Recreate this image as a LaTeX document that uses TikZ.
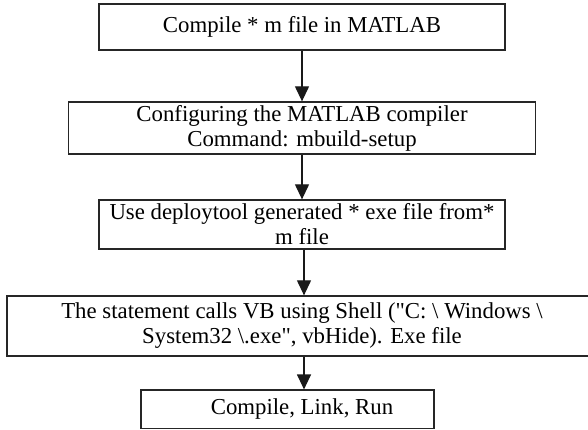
\documentclass[tikz,border=0pt]{standalone}
\usepackage{fontspec}
\setmainfont{Liberation Serif}[Ligatures=TeXOff]
\usetikzlibrary{arrows.meta}
\begin{document}
\begin{tikzpicture}[x=1pt,y=-1pt,
  box/.style={draw=black!85, line width=1.3pt, inner sep=0pt, align=center,
    font=\fontsize{22.8}{25}\selectfont},
  arr/.style={draw=black!90, line width=1.2pt, -{Triangle[width=14pt,length=15pt]}}]
\useasboundingbox (0,0) rectangle (588,429);
\node[box, minimum width=406pt, minimum height=46pt] (b1) at (302,27) {Compile * m file in MATLAB};
\node[box, minimum width=467pt, minimum height=52pt] (b2) at (302,128) {Configuring the MATLAB compiler\\Command: mbuild-setup};
\node[box, minimum width=406pt, minimum height=49pt] (b3) at (302,224.5) {Use deploytool generated * exe file from*\\m file};
\node[box, minimum width=590pt, minimum height=60pt] (b4) at (302,326) {The statement calls VB using Shell ("C: \textbackslash{} Windows \textbackslash\\System32 \textbackslash.exe", vbHide). Exe file};
\node[box, minimum width=293pt, minimum height=38.5pt] (b5) at (287.5,409.3) {\hspace*{29pt}Compile, Link, Run};
\draw[arr] (b1.south) -- (b1.south |- b2.north);
\draw[arr] (b2.south) -- (b2.south |- b3.north);
\draw[arr] ([xshift=2pt]b3.south) -- ([xshift=2pt]b3.south |- b4.north);
\draw[arr] ([xshift=2pt]b4.south) -- ([xshift=2pt]b4.south |- b5.north);
\end{tikzpicture}
\end{document}
